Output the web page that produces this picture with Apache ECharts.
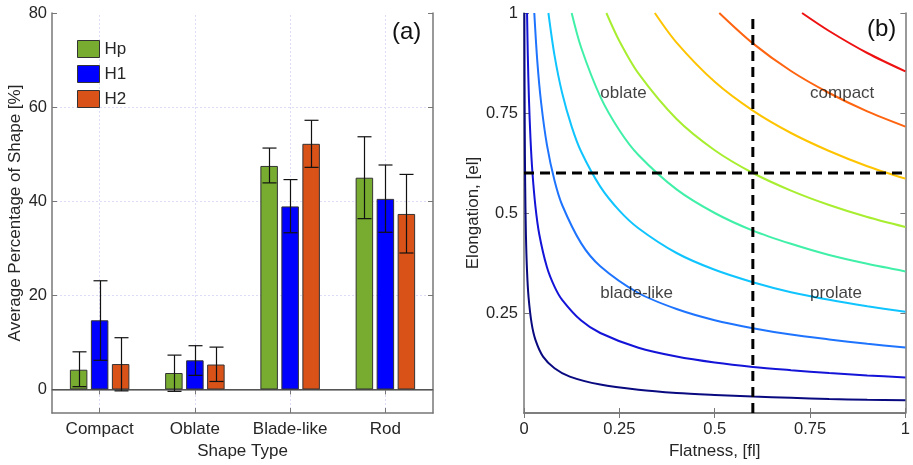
<!DOCTYPE html>
<html>
<head>
<meta charset="utf-8">
<script src="https://cdn.jsdelivr.net/npm/echarts@6/dist/echarts.min.js"></script>
<style>
  html, body { margin: 0; padding: 0; background: #fff; }
  #chart { width: 913px; height: 465px; }
</style>
</head>
<body>
<div id="chart"></div>
<script>
// panel (a): average percentage of each shape type
const categories = ['Compact', 'Oblate', 'Blade-like', 'Rod']
const hpMean = [4.2, 3.5, 47.5, 45.0]
const hpLow = [0.6, -0.4, 43.9, 36.3]
const hpHigh = [8.0, 7.3, 51.3, 53.7]
const h1Mean = [14.7, 6.2, 38.9, 40.5]
const h1Low = [6.2, 3.0, 33.3, 33.4]
const h1High = [23.1, 9.3, 44.6, 47.7]
const h2Mean = [5.4, 5.3, 52.2, 37.3]
const h2Low = [-0.3, 1.7, 47.2, 29.0]
const h2High = [11.0, 9.0, 57.2, 45.7]
const yTicksA = [0, 20, 40, 60, 80]
const gridLinesA = [20, 40, 60]

// panel (b): curves, [flatness, elongation]
const curve1 = [[0.001, 1], [0.0015, 0.816], [0.002, 0.707], [0.003, 0.577], [0.005, 0.447], [0.008, 0.354], [0.012, 0.289], [0.02, 0.224], [0.03, 0.183], [0.05, 0.141], [0.08, 0.112], [0.12, 0.091], [0.2, 0.071], [0.3, 0.058], [0.4, 0.05], [0.5, 0.045], [0.6, 0.041], [0.7, 0.038], [0.8, 0.035], [0.9, 0.033], [1, 0.032]]
const curve2 = [[0.008, 1], [0.01, 0.894], [0.013, 0.784], [0.017, 0.686], [0.022, 0.603], [0.03, 0.516], [0.04, 0.447], [0.06, 0.365], [0.08, 0.316], [0.1, 0.283], [0.15, 0.231], [0.2, 0.2], [0.3, 0.163], [0.4, 0.141], [0.5, 0.126], [0.6, 0.115], [0.7, 0.107], [0.8, 0.1], [0.9, 0.094], [1, 0.089]]
const curve3 = [[0.027, 1], [0.035, 0.878], [0.045, 0.775], [0.06, 0.671], [0.08, 0.581], [0.1, 0.52], [0.15, 0.424], [0.2, 0.367], [0.3, 0.3], [0.4, 0.26], [0.5, 0.232], [0.6, 0.212], [0.7, 0.196], [0.8, 0.184], [0.9, 0.173], [1, 0.164]]
const curve4 = [[0.064, 1], [0.08, 0.894], [0.1, 0.8], [0.125, 0.716], [0.15, 0.653], [0.2, 0.566], [0.25, 0.506], [0.3, 0.462], [0.4, 0.4], [0.5, 0.358], [0.6, 0.327], [0.7, 0.302], [0.8, 0.283], [0.9, 0.267], [1, 0.253]]
const curve5 = [[0.125, 1], [0.15, 0.913], [0.2, 0.791], [0.25, 0.707], [0.3, 0.645], [0.4, 0.559], [0.5, 0.5], [0.6, 0.456], [0.7, 0.423], [0.8, 0.395], [0.9, 0.373], [1, 0.354]]
const curve6 = [[0.216, 1], [0.25, 0.93], [0.3, 0.849], [0.4, 0.735], [0.5, 0.657], [0.6, 0.6], [0.7, 0.556], [0.8, 0.52], [0.9, 0.49], [1, 0.465]]
const curve7 = [[0.343, 1], [0.4, 0.926], [0.5, 0.828], [0.6, 0.756], [0.7, 0.7], [0.8, 0.655], [0.9, 0.617], [1, 0.586]]
const curve8 = [[0.512, 1], [0.6, 0.924], [0.7, 0.855], [0.8, 0.8], [0.9, 0.754], [1, 0.716]]
const curve9 = [[0.729, 1], [0.8, 0.955], [0.9, 0.9], [1, 0.854]]
const dashV = [[0.6, 0], [0.6, 1]]
const dashH = [[0, 0.6], [1, 0.6]]
const regionLabels = [['oblate', 0.2, 0.8], ['compact', 0.75, 0.8], ['blade-like', 0.2, 0.3], ['prolate', 0.75, 0.3]]

const curves = [curve1, curve2, curve3, curve4, curve5, curve6, curve7, curve8, curve9]
const curveColors = ['#0a0a80', '#1414d8', '#1e74ff', '#10c4ff', '#40f0a8', '#a8ee30', '#ffc400', '#ff6410', '#ee1111']

const textColor = '#262626'
const axisColor = '#777'
const font = 'Liberation Sans, Arial, sans-serif'

const chart = echarts.init(document.getElementById('chart'))

function errorBars(offset) {
  return function (params, api) {
    const lo = api.coord([api.value(0), api.value(1)])
    const hi = api.coord([api.value(0), api.value(2)])
    const x = Math.round(lo[0] + offset) + 0.5
    const style = { stroke: '#111', lineWidth: 1.2 }
    return {
      type: 'group',
      children: [
        { type: 'line', shape: { x1: x, y1: lo[1], x2: x, y2: hi[1] }, style },
        { type: 'line', shape: { x1: x - 7, y1: lo[1], x2: x + 7, y2: lo[1] }, style },
        { type: 'line', shape: { x1: x - 7, y1: hi[1], x2: x + 7, y2: hi[1] }, style }
      ]
    }
  }
}

function zip(lo, hi) {
  return lo.map((v, i) => [i, v, hi[i]])
}

const barBase = {
  type: 'bar',
  xAxisIndex: 0,
  yAxisIndex: 0,
  barWidth: 17.5,
  barGap: '20%',
  z: 3
}

const tickStyle = { show: true, inside: true, length: 5, lineStyle: { color: axisColor } }
const lineStyleAxis = { show: true, lineStyle: { color: axisColor, width: 1.5 } }

const option = {
  animation: false,
  textStyle: { fontFamily: font, color: textColor },
  grid: [
    { left: 52, top: 13, width: 381, height: 400 },
    { left: 524, top: 13, width: 383, height: 400 }
  ],
  legend: {
    data: ['Hp', 'H1', 'H2'],
    orient: 'vertical',
    left: 72,
    top: 35,
    icon: 'rect',
    itemWidth: 22,
    itemHeight: 17,
    itemGap: 7,
    z: 6,
    itemStyle: { borderColor: '#333', borderWidth: 1, borderType: 'solid' },
    textStyle: { fontSize: 17, color: textColor, fontFamily: font }
  },
  xAxis: [
    {
      type: 'category', gridIndex: 0, data: categories, position: 'bottom',
      axisLine: { show: true, onZero: false, lineStyle: { color: axisColor, width: 1.5 } },
      axisTick: Object.assign({ alignWithLabel: true, interval: 0 }, tickStyle),
      axisLabel: { fontSize: 17, color: textColor, margin: 8, interval: 0 },
      name: 'Shape Type', nameLocation: 'middle', nameGap: 30,
      nameTextStyle: { fontSize: 17, color: textColor }
    },
    {
      type: 'category', gridIndex: 0, data: categories, position: 'top',
      axisLine: lineStyleAxis,
      axisTick: Object.assign({ alignWithLabel: true, interval: 0 }, tickStyle),
      axisLabel: { show: false }
    },
    {
      type: 'value', gridIndex: 1, min: 0, max: 1, interval: 0.25, position: 'bottom',
      axisLine: { show: true, onZero: false, lineStyle: { color: axisColor, width: 1.5 } },
      axisTick: tickStyle,
      splitLine: { show: false },
      axisLabel: { fontSize: 16.5, color: textColor, margin: 8 },
      name: 'Flatness, [fl]', nameLocation: 'middle', nameGap: 30,
      nameTextStyle: { fontSize: 17, color: textColor }
    },
    {
      type: 'value', gridIndex: 1, min: 0, max: 1, interval: 0.25, position: 'top',
      axisLine: lineStyleAxis,
      axisTick: tickStyle,
      splitLine: { show: false },
      axisLabel: { show: false }
    }
  ],
  yAxis: [
    {
      type: 'value', gridIndex: 0, min: -5, max: 80, position: 'left',
      axisLine: { show: true, onZero: false, lineStyle: { color: axisColor, width: 1.5 } },
      axisTick: Object.assign({ customValues: yTicksA }, tickStyle),
      axisLabel: { customValues: yTicksA, fontSize: 16.5, color: textColor, margin: 5 },
      splitLine: { show: false },
      name: 'Average Percentage of Shape [%]', nameLocation: 'middle', nameGap: 28,
      nameTextStyle: { fontSize: 17, color: textColor }
    },
    {
      type: 'value', gridIndex: 0, min: -5, max: 80, position: 'right',
      axisLine: { show: true, onZero: false, lineStyle: { color: axisColor, width: 1.5 } },
      axisTick: Object.assign({ customValues: yTicksA }, tickStyle),
      axisLabel: { show: false },
      splitLine: { show: false }
    },
    {
      type: 'value', gridIndex: 1, min: 0, max: 1, interval: 0.25, position: 'left',
      axisLine: { show: true, onZero: false, lineStyle: { color: axisColor, width: 1.5 } },
      axisTick: tickStyle,
      axisLabel: { fontSize: 16.5, color: textColor, margin: 6, showMinLabel: false },
      splitLine: { show: false },
      name: 'Elongation, [el]', nameLocation: 'middle', nameGap: 42,
      nameTextStyle: { fontSize: 17, color: textColor }
    },
    {
      type: 'value', gridIndex: 1, min: 0, max: 1, interval: 0.25, position: 'right',
      axisLine: { show: true, onZero: false, lineStyle: { color: axisColor, width: 1.5 } },
      axisTick: tickStyle,
      axisLabel: { show: false },
      splitLine: { show: false }
    }
  ],
  graphic: [
    { type: 'text', left: 392, top: 20, style: { text: '(a)', fontSize: 24, fill: '#111', fontFamily: font } },
    { type: 'text', left: 867, top: 17, style: { text: '(b)', fontSize: 24, fill: '#111', fontFamily: font } }
  ],
  series: [
    // grid lines of panel (a), kept behind the bars
    {
      type: 'line', xAxisIndex: 0, yAxisIndex: 0, data: [], z: 0, silent: true,
      markLine: {
        z: 0, silent: true, symbol: 'none', label: { show: false },
        lineStyle: { color: '#dcdcf6', type: [2, 2], width: 1 },
        data: gridLinesA.map(v => ({ yAxis: v })).concat(categories.map(c => ({ xAxis: c })))
      }
    },
    Object.assign({}, barBase, {
      name: 'Hp', data: hpMean,
      itemStyle: { color: '#77ac30', borderColor: '#333', borderWidth: 1 }
    }),
    Object.assign({}, barBase, {
      name: 'H1', data: h1Mean,
      itemStyle: { color: '#0000ff', borderColor: '#333', borderWidth: 1 }
    }),
    Object.assign({}, barBase, {
      name: 'H2', data: h2Mean,
      itemStyle: { color: '#d95319', borderColor: '#333', borderWidth: 1 },
      markLine: {
        z: 2, silent: true, symbol: 'none', label: { show: false },
        lineStyle: { color: '#555', type: 'solid', width: 1 },
        data: [{ yAxis: 0 }]
      }
    }),
    { type: 'custom', xAxisIndex: 0, yAxisIndex: 0, renderItem: errorBars(-21), data: zip(hpLow, hpHigh), encode: { x: 0, y: [1, 2] }, z: 4 },
    { type: 'custom', xAxisIndex: 0, yAxisIndex: 0, renderItem: errorBars(0), data: zip(h1Low, h1High), encode: { x: 0, y: [1, 2] }, z: 4 },
    { type: 'custom', xAxisIndex: 0, yAxisIndex: 0, renderItem: errorBars(21), data: zip(h2Low, h2High), encode: { x: 0, y: [1, 2] }, z: 4 }
  ].concat(curves.map((c, i) => ({
    type: 'line', xAxisIndex: 2, yAxisIndex: 2, data: c,
    showSymbol: false, smooth: 0.3, silent: true,
    lineStyle: { color: curveColors[i], width: 2 }, z: 2
  }))).concat([
    {
      type: 'line', xAxisIndex: 2, yAxisIndex: 2, data: dashV, showSymbol: false, silent: true, z: 5,
      lineStyle: { color: '#000', width: 3, type: [10, 6] }
    },
    {
      type: 'line', xAxisIndex: 2, yAxisIndex: 2, data: dashH, showSymbol: false, silent: true, z: 5,
      lineStyle: { color: '#000', width: 3, type: [10, 6] }
    },
    {
      type: 'scatter', xAxisIndex: 2, yAxisIndex: 2, symbolSize: 0, silent: true, z: 6,
      data: regionLabels.map(r => ({ value: [r[1], r[2]], name: r[0] })),
      label: { show: true, position: 'right', distance: 0, formatter: '{b}', fontSize: 17, color: '#111' }
    }
  ])
}

chart.setOption(option)
</script>
</body>
</html>
